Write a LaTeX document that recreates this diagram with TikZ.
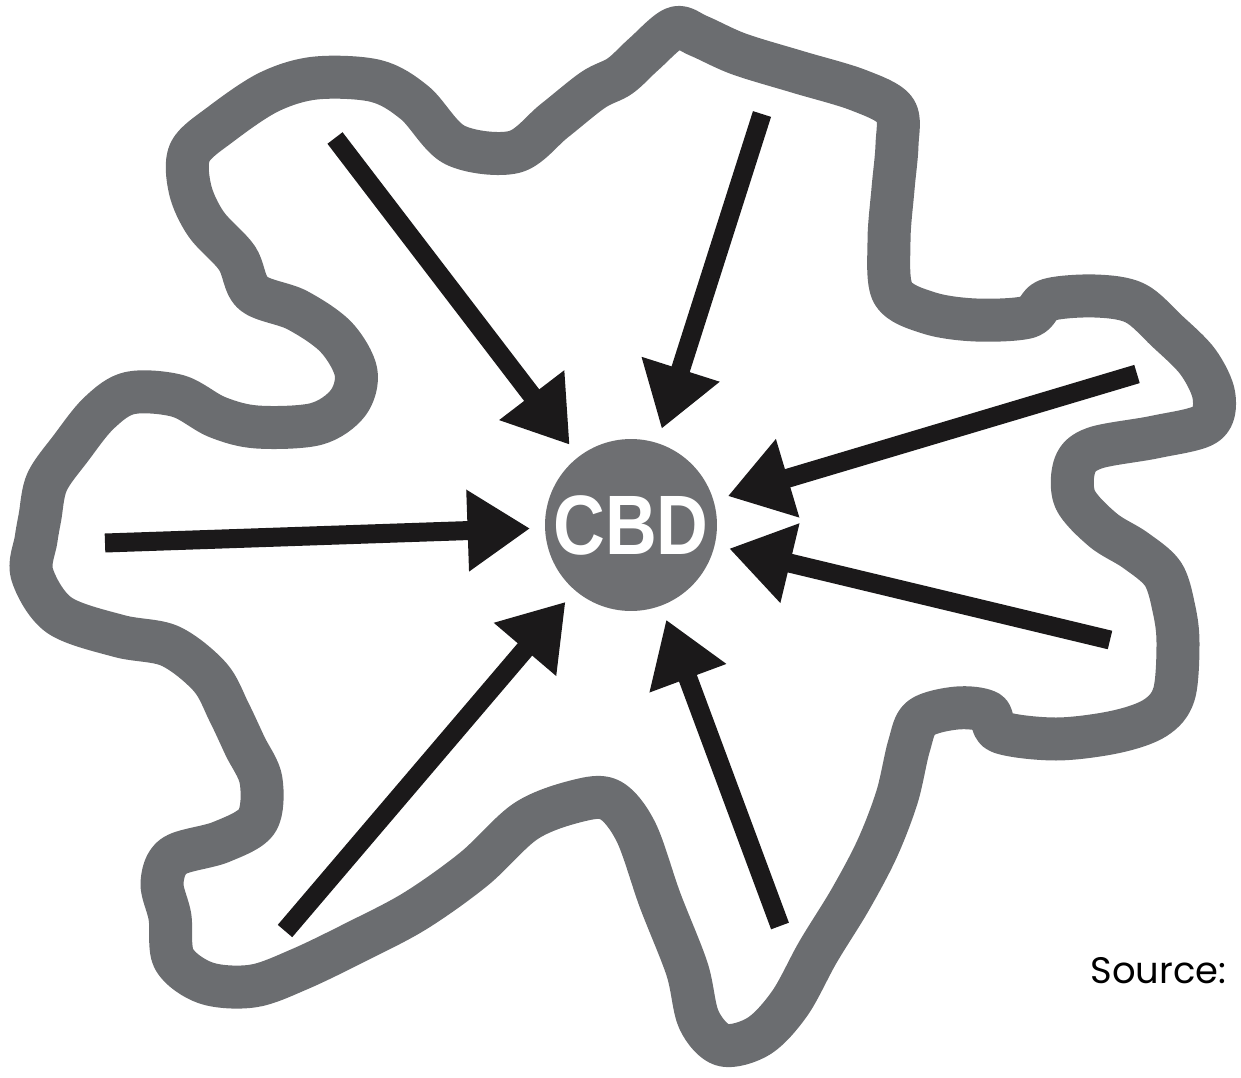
\documentclass[tikz,border=0pt]{standalone}
\usepackage{fontspec}
\usepackage{graphicx}
\definecolor{Ring}{HTML}{6B6D70}
\definecolor{Hub}{HTML}{6E6F72}
\definecolor{Ink}{HTML}{1B191A}
\newfontfamily\hubfont{Liberation Sans}
\newfontfamily\notefont{Poppins}
\usetikzlibrary{arrows.meta}

\begin{document}
\begin{tikzpicture}[x=0.02cm,y=-0.02cm,
  border/.style={draw=Ring,line width=0.86cm,line join=round},
  hub/.style={circle,fill=Hub,minimum size=3.44cm,inner sep=0pt,outer sep=0pt,text=white,font=\hubfont\bfseries\fontsize{48}{48}\selectfont},
  arrow/.style={-{Triangle[length=1.25cm,width=1.55cm]},line width=0.38cm,color=Ink,shorten >=0.3cm}
]
\useasboundingbox (0,0) rectangle (1241,1078);
% city edge
\draw[border] plot[smooth cycle,tension=0.55] coordinates {
  (675,28) (699,36) (739,54) (798,72) (858,90) (895,110) (897,145) (893,189)
  (889,241) (893,293) (929,313) (976,320) (1028,317) (1048,300) (1095,296)
  (1135,303) (1167,331) (1198,362) (1214,396) (1206,424) (1155,437) (1095,448)
  (1075,465) (1075,499) (1103,530) (1135,550) (1163,574) (1174,609) (1178,643)
  (1174,694) (1155,718) (1115,732) (1056,739) (1000,732) (988,712) (957,708)
  (921,718) (909,746) (897,797) (877,849) (850,900) (818,952) (790,1003)
  (759,1036) (723,1045) (699,1020) (687,969) (660,900) (636,832) (610,800)
  (577,801) (526,821) (474,869) (415,911) (356,942) (300,969) (253,986)
  (206,983) (174,959) (170,917) (162,883) (174,856) (221,842) (257,821)
  (261,780) (245,746) (229,712) (210,677) (170,646) (119,636) (59,615)
  (32,574) (36,540) (40,517) (47,482) (71,448) (99,413) (130,393) (178,396)
  (217,417) (257,427) (316,424) (348,403) (356,372) (336,337) (297,310)
  (253,293) (237,258) (206,224) (190,189) (190,152) (221,124) (269,92)
  (316,78) (376,81) (415,103) (455,145) (514,152) (554,121) (593,90)
  (620,76) (644,54)};

\node[hub] (cbd) at (631,525) {\scalebox{0.85}[1]{CBD}};

\coordinate (nw) at (335,138);
\coordinate (n) at (762,114);
\coordinate (ene) at (1137,374);
\coordinate (ese) at (1110,640);
\coordinate (s) at (780,926);
\coordinate (sw) at (285,931);
\coordinate (w) at (105,543);

\foreach \p in {nw,n,ene,ese,s,sw,w}
  \draw[arrow] (\p) -- (cbd);

\node[font=\notefont\fontsize{21}{21}\selectfont,anchor=base west,inner sep=0pt] (src) at (1090,983) {Source:};
\end{tikzpicture}
\end{document}
